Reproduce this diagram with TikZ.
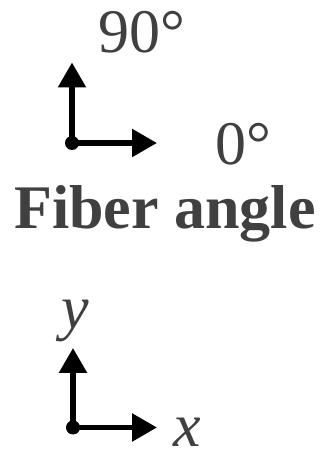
\documentclass[tikz,border=0pt]{standalone}
\usepackage{fontspec}
\setmainfont{LiberationSerif}[Extension=.ttf, UprightFont=*-Regular, BoldFont=*-Bold, ItalicFont=*-Italic, BoldItalicFont=*-BoldItalic]
\usetikzlibrary{arrows.meta}
\definecolor{labelgray}{RGB}{64,64,64}
\tikzset{
    axisarrow/.style={line width=5.5pt, -{Triangle[length=25pt,width=27pt]}},
    axislabel/.style={text=labelgray, inner sep=0pt, anchor=base west, font=\fontsize{62}{70}\selectfont}
}
\begin{document}
\begin{tikzpicture}[x=1pt,y=1pt]
        \useasboundingbox (0,0) rectangle (330,454);
        % fiber angle axes
        \coordinate (fo) at (72,311);
        \coordinate (fu) at (72,391.5);
        \coordinate (fr) at (157,311);
        \draw [axisarrow] (fo) -- (fu);
        \draw [axisarrow] (fo) -- (fr);
        \fill (fo) circle (7pt);
        % x-y axes
        \coordinate (xo) at (73,26.5);
        \coordinate (xu) at (73,106);
        \coordinate (xr) at (157,26.5);
        \draw [axisarrow] (xo) -- (xu);
        \draw [axisarrow] (xo) -- (xr);
        \fill (xo) circle (7pt);
        % labels
        \node [axislabel] (ninety) at (98.5,401) {90°};
        \node [axislabel] (zero) at (215.5,289) {0°};
        \node [axislabel, font=\fontsize{62}{70}\selectfont\bfseries] (title) at (14,225) {Fiber angle};
        \node [axislabel] (ylab) at (61,125) {\textit{y}};
        \node [axislabel] (xlab) at (173,8) {\textit{x}};
\end{tikzpicture}
\end{document}
